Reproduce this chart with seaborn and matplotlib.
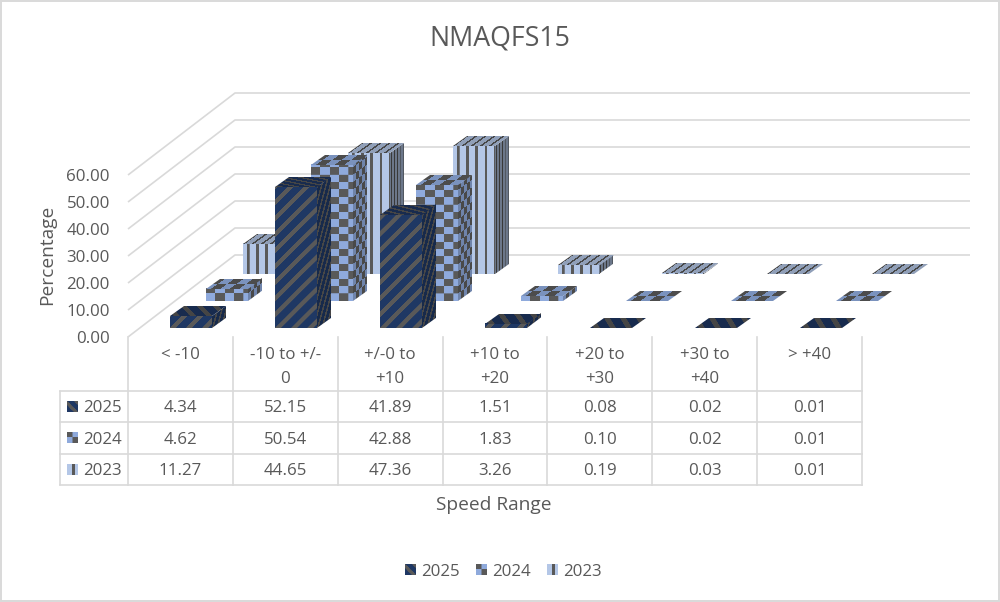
import numpy as np
import pandas as pd
import matplotlib
matplotlib.use('Agg')
import matplotlib.pyplot as plt
from matplotlib.image import AxesImage
from matplotlib.patches import Rectangle
from matplotlib.transforms import Affine2D
from matplotlib.ticker import FormatStrFormatter
import seaborn as sns

speed_ranges = ['< -10', '-10 to +/-0', '+/-0 to +10', '+10 to +20', '+20 to +30', '+30 to +40', '> +40']
range_labels = ['< -10', '-10 to +/-\n0', '+/-0 to\n+10', '+10 to\n+20', '+20 to\n+30', '+30 to\n+40', '> +40']
years = ['2025', '2024', '2023']
values_2025 = [4.34, 52.15, 41.89, 1.51, 0.08, 0.02, 0.01]
values_2024 = [4.62, 50.54, 42.88, 1.83, 0.10, 0.02, 0.01]
values_2023 = [11.27, 44.65, 47.36, 3.26, 0.19, 0.03, 0.01]
y_ticks = [0, 10, 20, 30, 40, 50, 60]

W, H = 1000, 602
TEXT = '#595959'
LINE = '#D9D9D9'
FS = 12.2

sns.set_theme(style='white')
plt.rcParams['font.family'] = ['Open Sans', 'DejaVu Sans']
plt.rcParams['text.color'] = TEXT


def rect(x0, y_bottom, w, h):
    # pixel box (y measured from the top) to figure fractions
    return [x0 / W, 1 - y_bottom / H, w / W, h / H]


def diag(u, v):
    return ((u - v) % 16) < 6


def checker(u, v):
    return (np.floor(u / 9.3) + np.floor(v / 7.4)) % 2 == 1


def vert(u, v):
    return ((u + 5) % 9.1) < 2.5


def paint_face(ax, origin, u_vec, v_vec, u_len, v_len, pat, fg, bg, flip_u=False):
    # fill a parallelogram (display coords) with a repeating two colour pattern
    nu = max(int(u_len * 4), 2)
    nv = max(int(v_len * 4), 2)
    uu, vv = np.meshgrid((np.arange(nu) + .5) / 4, (np.arange(nv) + .5) / 4)
    if flip_u:
        uu = u_len - uu
    mask = pat(uu, vv)
    img = np.where(mask[..., None], matplotlib.colors.to_rgba(fg), matplotlib.colors.to_rgba(bg))
    im = AxesImage(ax, origin='lower', interpolation='antialiased', zorder=3)
    im.set_data(img)
    im.set_extent((0, 1, 0, 1))
    im.set_transform(Affine2D(np.array([[u_vec[0], v_vec[0], origin[0]],
                                        [u_vec[1], v_vec[1], origin[1]],
                                        [0, 0, 1]])))
    im.set_clip_on(False)
    ax.add_image(im)


def shade(color, f):
    return tuple(c * f for c in matplotlib.colors.to_rgb(color))


series = [
    ('2023', values_2023, vert, '#B4C7E7', 211.5, 274, .80, .60),
    ('2024', values_2024, checker, '#8FAADC', 175, 301, .86, .78),
    ('2025', values_2025, diag, '#1F3864', 139, 328, .78, .75),
]

fig = plt.figure(figsize=(W / 100, H / 100), dpi=100, facecolor='white')

canvas = fig.add_axes([0, 0, 1, 1], zorder=0)
canvas.set_xlim(0, W)
canvas.set_ylim(H, 0)
canvas.axis('off')

# y axis sits on the front plane, 27 px for every 10 percent
wall = fig.add_axes(rect(128, 337, 734, 162), zorder=1)
wall.patch.set_alpha(0)
wall.set_xlim(-.5, 6.5)
wall.set_ylim(0, 60)
wall.set_xticks([])
wall.set_yticks(y_ticks)
wall.yaxis.set_major_formatter(FormatStrFormatter('%.2f'))
wall.tick_params(axis='y', length=0, pad=13, labelsize=FS, labelcolor=TEXT)
wall.set_ylabel('Percentage', fontsize=13.8, color=TEXT)
wall.yaxis.set_label_coords((56 - 128) / 734, (337 - 255) / 162)
sns.despine(ax=wall, left=True, bottom=True)

# walls: each gridline runs along the side wall then the back wall
for t in y_ticks:
    x0, y0 = wall.transData.transform((-.5, t))
    y0 = H - y0
    canvas.plot([x0, x0 + 107, 970], [y0, y0 - 82, y0 - 82], color=LINE, lw=1.2, solid_capstyle='butt')

# bars, back series first
DEPTH = (14, 10)
for name, vals, pat, col, x0, base, top_f, side_f in series:
    ax = fig.add_axes(rect(x0, base, 734, 162), zorder=2 + years[::-1].index(name))
    ax.patch.set_alpha(0)
    df = pd.DataFrame({'range': speed_ranges, 'value': vals})
    sns.barplot(data=df, x='range', y='value', color=col, saturation=1, width=.4, ax=ax)
    ax.set_xlim(-.5, 6.5)
    ax.set_ylim(0, 60)
    ax.axis('off')
    fg = '#595959'
    for bar, v in zip(list(ax.patches), vals):
        bar.set_linewidth(0)
        (xa, ya), (xb, yb) = ax.transData.transform([(bar.get_x(), 0), (bar.get_x() + bar.get_width(), bar.get_height())])
        w, h = xb - xa, yb - ya
        if h > .5:
            paint_face(ax, (xa, ya), (w, 0), (0, h), w, h, pat, fg, col)
            paint_face(ax, (xb, ya), DEPTH, (0, h), 42, h, pat, shade(fg, side_f + .05), shade(col, side_f))
        top_len = 20 + v * .8 if pat is diag else 15
        paint_face(ax, (xa, yb), (w, 0), DEPTH, w, top_len, pat, shade(fg, top_f), shade(col, top_f), flip_u=True)

# data table below the bars
cols_x = [128 + i * 104.86 for i in range(8)]
rows_y = [390.5, 422, 453.5, 485]
for x in cols_x:
    canvas.plot([x, x], [337, 485], color=LINE, lw=1.2, solid_capstyle='projecting')
canvas.plot([60, 60], [390.5, 485], color=LINE, lw=1.2)
for y in rows_y:
    canvas.plot([60, cols_x[-1]], [y, y], color=LINE, lw=1.2, solid_capstyle='projecting')

for i, lab in enumerate(range_labels):
    canvas.text((cols_x[i] + cols_x[i + 1]) / 2, 347, lab, ha='center', va='top', fontsize=FS, color=TEXT, linespacing=1.65)

rows = [('2025', values_2025, diag, '#1F3864'), ('2024', values_2024, checker, '#8FAADC'), ('2023', values_2023, vert, '#B4C7E7')]
swatch_len = {'2025': (16, 16), '2024': (18.6, 14.8), '2023': (9.1, 9.1)}


def swatch(x, y, pat, col, name):
    ul, vl = swatch_len[name]
    paint_face(canvas, (x, H - y - 11), (11, 0), (0, 11), ul, vl, pat, '#595959', col, flip_u=pat is diag)


for r, (name, vals, pat, col) in enumerate(rows):
    yc = (rows_y[r] + rows_y[r + 1]) / 2
    swatch(67, yc - 5.5, pat, col, name)
    canvas.text(83, yc, name, ha='left', va='center_baseline', fontsize=FS, color=TEXT)
    for i, v in enumerate(vals):
        canvas.text((cols_x[i] + cols_x[i + 1]) / 2, yc, '%.2f' % v, ha='center', va='center_baseline', fontsize=FS, color=TEXT)

canvas.text(494, 505, 'Speed Range', ha='center', va='center', fontsize=13.8, color=TEXT)
canvas.text(500, 38.5, 'NMAQFS15', ha='center', va='center', fontsize=19.3, color=TEXT)

# legend
for x_sw, x_txt, (name, vals, pat, col) in zip([405, 476, 547], [421, 492, 563], rows):
    swatch(x_sw, 564, pat, col, name)
    canvas.text(x_txt, 569.5, name, ha='left', va='center_baseline', fontsize=FS, color=TEXT)

canvas.add_patch(Rectangle((1, 1), W - 2, H - 2, fill=False, ec=LINE, lw=1.4))

fig.savefig('out.png', dpi=100)
